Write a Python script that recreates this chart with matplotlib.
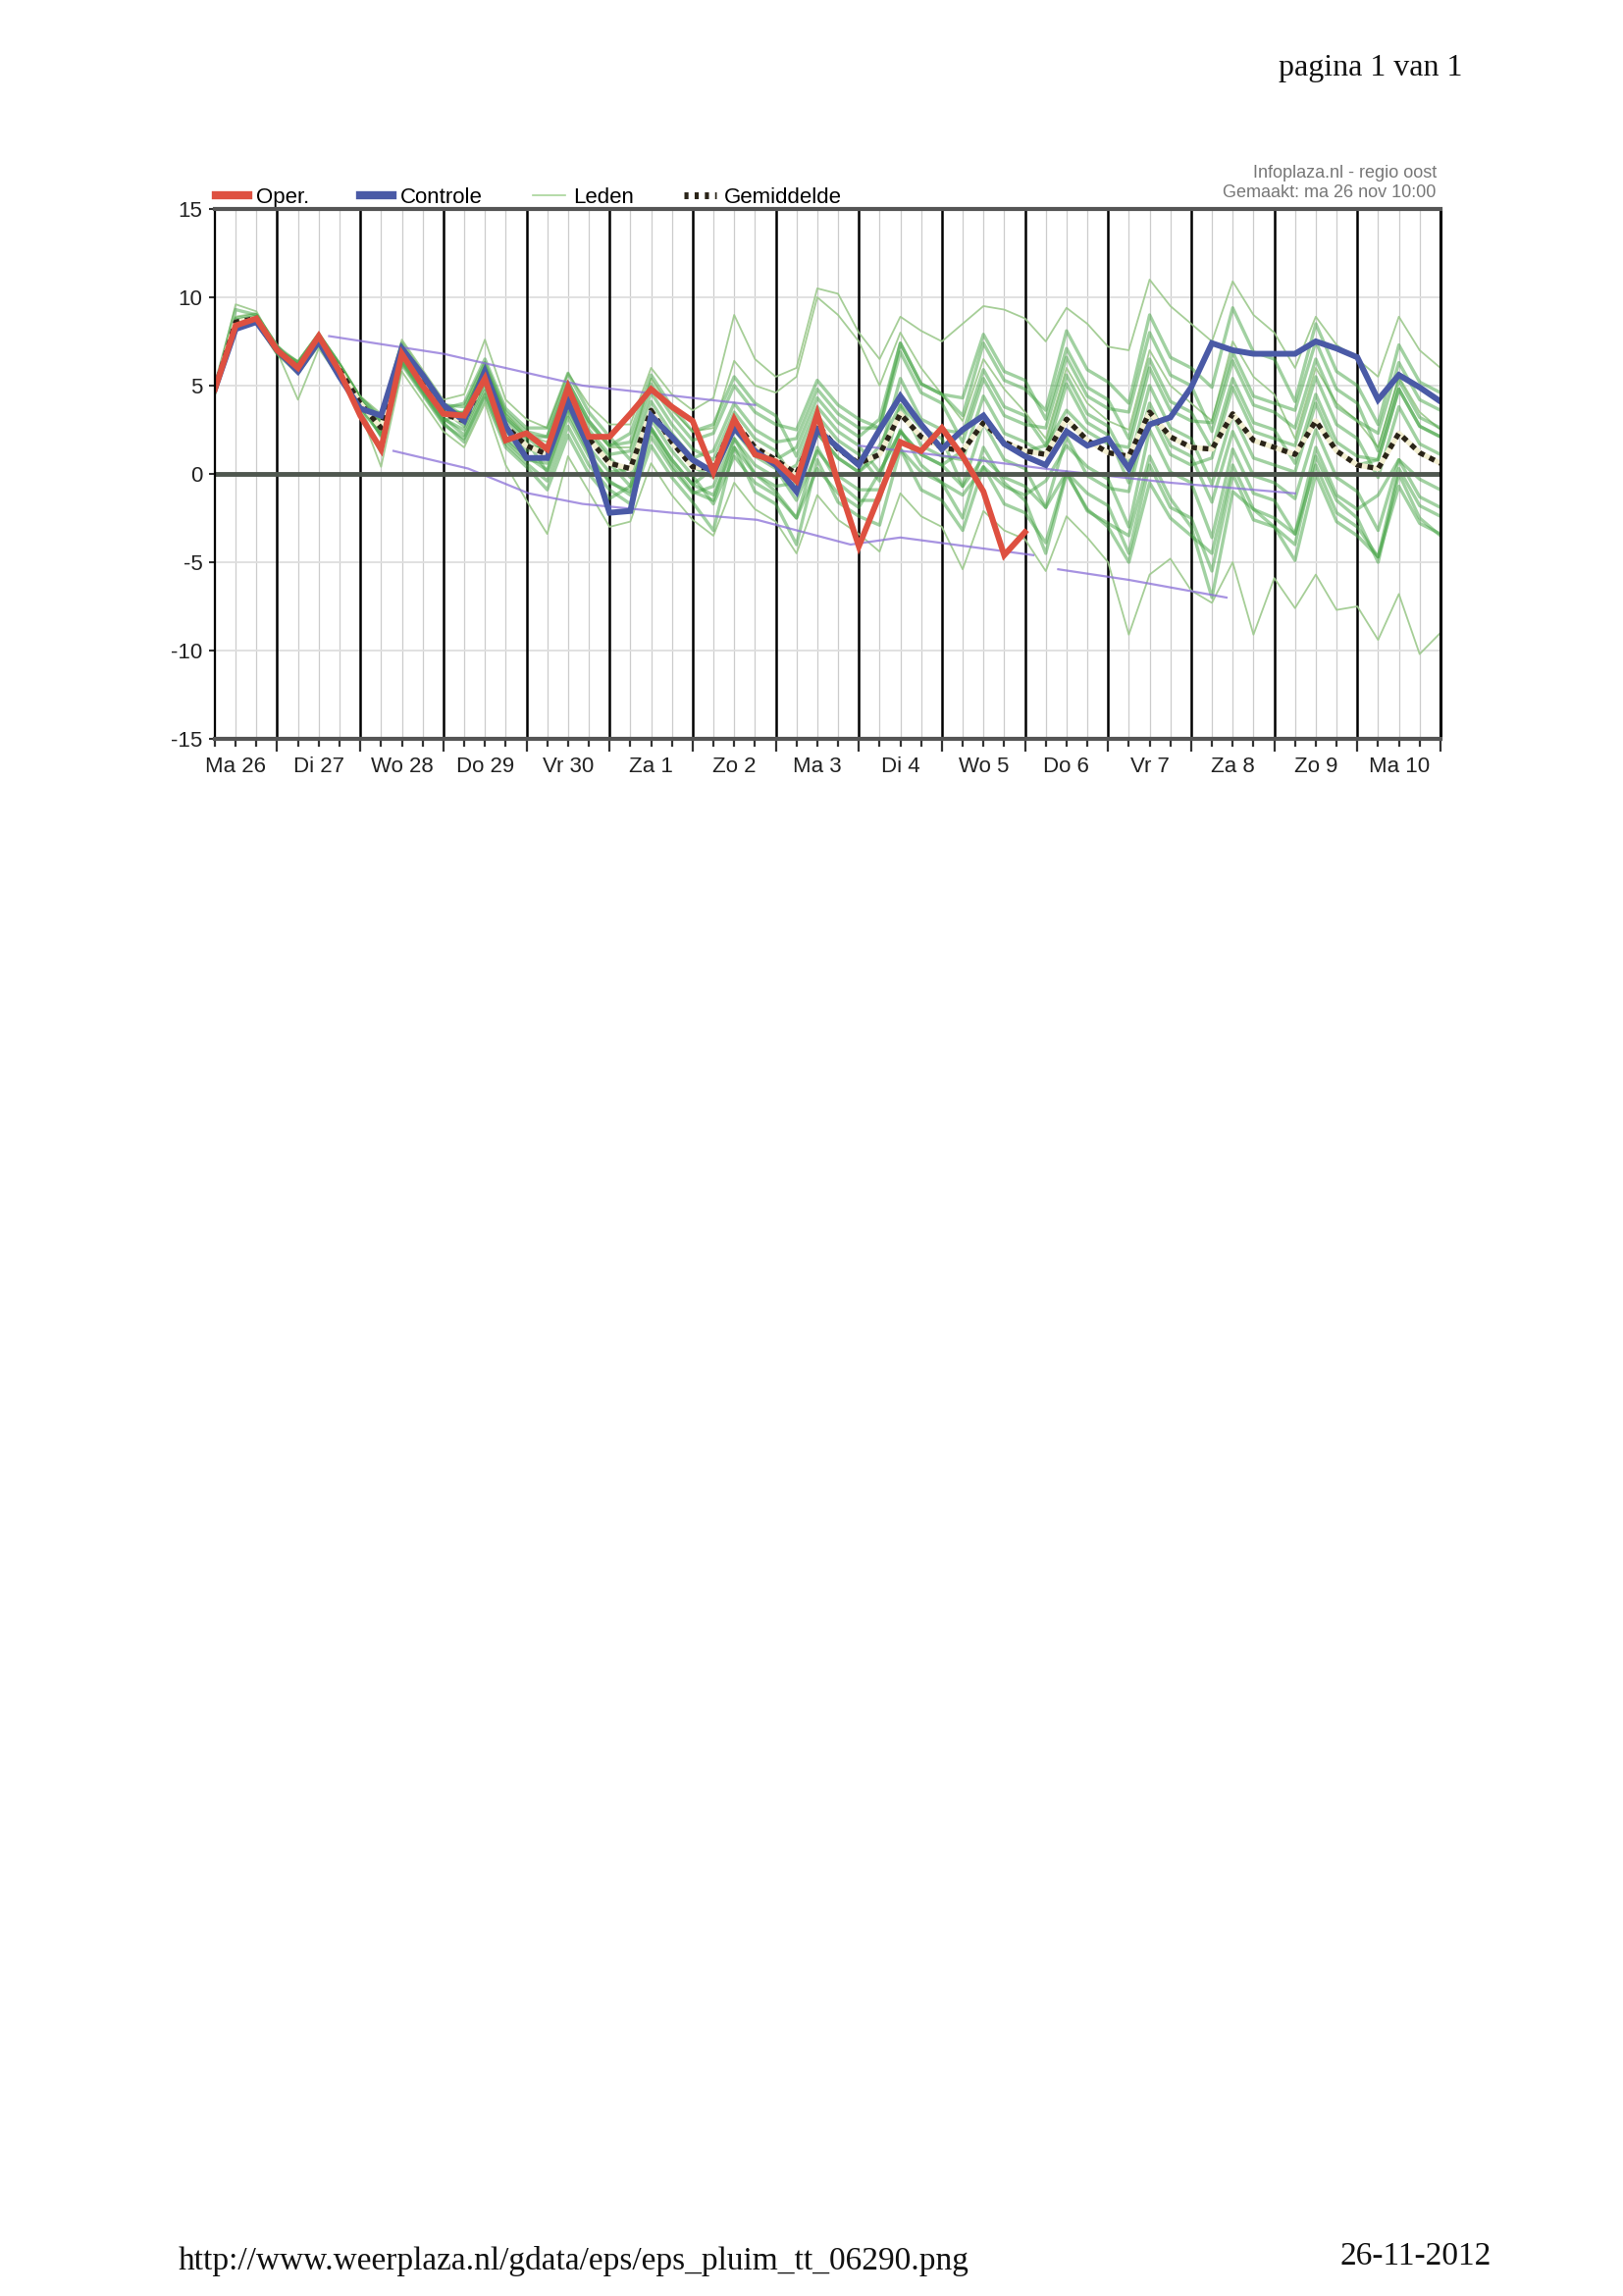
import numpy as np
import matplotlib
matplotlib.use("Agg")
import matplotlib.pyplot as plt
from matplotlib.lines import Line2D

# ---------------- data ----------------
# 6-hourly steps starting Ma 26 06:00 (step 0) until Di 11 00:00 (step 59)
steps = np.arange(60)
day_labels = ["Ma 26", "Di 27", "Wo 28", "Do 29", "Vr 30", "Za 1", "Zo 2", "Ma 3",
              "Di 4", "Wo 5", "Do 6", "Vr 7", "Za 8", "Zo 9", "Ma 10"]
label_steps = [1, 5, 9, 13, 17, 21, 25, 29, 33, 37, 41, 45, 49, 53, 57]      # 12:00 each day
day_boundaries = [3, 7, 11, 15, 19, 23, 27, 31, 35, 39, 43, 47, 51, 55, 59]  # 00:00 each day
y_ticks = [-15, -10, -5, 0, 5, 10, 15]

oper = [4.8, 8.4, 8.8, 7.0, 6.0, 7.8, 5.8, 3.3, 1.4, 6.8, 5.0, 3.4, 3.3, 5.4, 1.9, 2.3,
        1.4, 4.9, 2.1, 2.1, 3.4, 4.8, 3.8, 3.0, 0.1, 3.1, 1.1, 0.7, -0.4, 3.4, -0.5, -4.1,
        -1.2, 1.8, 1.3, 2.6, 1.0, -1.0, -4.6, -3.3]

controle = [4.8, 8.2, 8.6, 7.0, 5.8, 7.5, 5.5, 3.7, 3.3, 7.1, 5.6, 3.9, 3.0, 5.8, 2.7, 0.9,
            0.9, 4.1, 1.5, -2.2, -2.1, 3.3, 2.1, 0.8, 0.1, 2.6, 1.3, 0.5, -1.0, 2.5, 1.5, 0.5,
            2.5, 4.4, 2.8, 1.4, 2.5, 3.3, 1.7, 1.0, 0.5, 2.4, 1.6, 2.0, 0.3, 2.8, 3.2, 4.9,
            7.4, 7.0, 6.8, 6.8, 6.8, 7.5, 7.1, 6.6, 4.2, 5.6, 4.9, 4.1]

gemiddelde = [4.8, 8.6, 8.8, 7.0, 6.0, 7.6, 5.9, 4.0, 2.6, 6.8, 5.1, 3.4, 3.0, 5.5, 2.7, 1.6,
              1.1, 4.2, 2.0, 0.6, 0.3, 3.6, 1.8, 0.4, 0.3, 3.0, 1.5, 0.8, 0.0, 2.8, 1.4, 0.6,
              1.1, 3.4, 2.1, 1.5, 1.3, 2.9, 1.8, 1.3, 1.1, 3.1, 1.9, 1.2, 1.0, 3.5, 2.1, 1.5,
              1.4, 3.4, 1.9, 1.5, 1.1, 3.0, 1.3, 0.5, 0.3, 2.3, 1.2, 0.6]

# ensemble members ("Leden"), read approximately from the plume
lid_01 = [5.0, 8.8, 9.0, 7.2, 6.3, 7.9, 6.2, 4.3, 3.1, 7.3, 5.6, 3.9, 3.8, 6.3, 3.5, 2.4,
          2.1, 5.2, 3.0, 1.6, 1.8, 5.1, 3.3, 1.9, 2.3, 5.0, 3.5, 2.8, 2.5, 5.3, 3.9, 3.1,
          2.6, 7.4, 5.1, 4.5, 3.3, 7.4, 5.3, 4.8, 3.6, 8.1, 5.9, 5.2, 4.0, 9.0, 6.6, 6.0,
          4.9, 9.4, 6.9, 6.5, 4.1, 8.5, 5.8, 5.0, 2.8, 7.3, 5.2, 4.6]
lid_02 = [4.6, 8.4, 8.6, 6.8, 5.7, 7.3, 5.6, 3.7, 1.2, 6.2, 4.5, 2.8, 2.0, 4.5, 1.7, 0.6,
          -0.4, 2.7, 0.5, -0.9, -1.7, 1.6, -0.2, -1.6, -3.2, 1.5, -1.0, -1.7, -4.0, 0.8, -1.6, -2.4,
          -2.9, 1.4, -0.9, -1.5, -3.2, 0.4, -1.7, -2.2, -3.9, 0.1, -2.1, -2.8, -3.5, 1.0, -1.4, -3.0,
          -7.0, -1.0, -2.0, -2.5, -3.4, 0.5, -2.2, -3.0, -4.7, -0.7, -2.8, -3.4]
lid_03 = [4.9, 9.6, 9.2, 7.1, 6.4, 8.0, 6.3, 4.4, 3.4, 7.6, 5.9, 4.2, 4.5, 7.6, 4.2, 3.1,
          2.6, 5.7, 3.9, 2.8, 2.8, 6.0, 4.5, 3.6, 4.3, 9.0, 6.5, 5.5, 6.0, 10.5, 10.2, 8.0,
          6.5, 8.9, 8.1, 7.5, 8.5, 9.5, 9.3, 8.8, 7.5, 9.4, 8.5, 7.2, 7.0, 11.0, 9.5, 8.5,
          7.5, 10.9, 9.0, 8.0, 6.0, 8.9, 7.3, 6.5, 5.5, 8.9, 7.0, 6.0]
lid_04 = [4.7, 8.5, 8.7, 6.9, 4.2, 7.1, 5.4, 3.5, 0.4, 5.8, 4.1, 2.4, 1.5, 4.0, 0.5, -1.5,
          -3.4, 1.0, -1.0, -3.0, -2.7, 0.6, -1.2, -2.6, -3.5, -0.5, -2.0, -2.7, -4.5, -1.2, -2.6, -3.4,
          -4.4, -1.1, -2.4, -3.0, -5.4, -2.1, -3.2, -3.7, -5.5, -2.4, -3.6, -5.0, -9.1, -5.7, -4.8, -6.6,
          -7.3, -5.0, -9.1, -5.9, -7.6, -5.7, -7.7, -7.5, -9.4, -6.8, -10.2, -9.0]
lid_05 = [4.8, 8.6, 8.8, 7.0, 6.2, 7.8, 6.1, 4.2, 2.8, 7.0, 5.3, 3.6, 2.7, 5.2, 2.4, 1.3,
          1.6, 4.7, 2.5, 1.1, 1.3, 4.6, 2.8, 1.4, 0.8, 3.5, 2.0, 1.3, -0.5, 2.3, 0.9, 0.1,
          1.1, 5.4, 3.1, 2.5, 2.3, 5.9, 3.8, 3.3, 1.6, 5.6, 3.4, 2.7, 0.5, 5.0, 2.6, 2.0,
          -0.6, 3.4, 0.9, 0.5, 0.1, 4.0, 1.3, 0.5, 0.8, 4.8, 2.7, 2.1]
lid_06 = [4.9, 8.7, 8.9, 7.1, 5.8, 7.4, 5.7, 3.8, 2.2, 6.4, 4.7, 3.0, 3.5, 6.0, 3.2, 2.1,
          1.1, 4.2, 2.0, 0.6, -0.7, 2.6, 0.8, -0.6, -1.2, 1.5, 0.0, -0.7, -0.5, 2.3, 0.9, 0.1,
          1.6, 3.9, 2.6, 2.0, -0.7, 2.9, 0.8, 0.3, -1.9, 2.1, -0.1, -0.8, -1.0, 3.5, 1.1, 0.5,
          0.9, 4.9, 2.4, 2.0, 1.6, 5.5, 2.8, 2.0, -0.2, 3.8, 1.7, 1.1]
lid_07 = [4.7, 8.5, 8.7, 6.9, 6.1, 7.7, 6.0, 4.1, 2.9, 7.1, 5.4, 3.7, 4.0, 6.5, 3.7, 2.6,
          2.6, 5.7, 3.5, 2.1, 0.8, 4.1, 2.3, 0.9, 1.3, 4.0, 2.5, 1.8, 2.0, 4.8, 3.4, 2.6,
          2.6, 6.9, 4.6, 4.0, 1.8, 5.4, 3.3, 2.8, 2.6, 6.6, 4.4, 3.7, 3.5, 8.0, 5.6, 5.0,
          2.4, 6.4, 3.9, 3.5, 2.6, 6.5, 3.8, 3.0, 2.3, 6.3, 4.2, 3.6]
lid_08 = [5.0, 9.3, 9.0, 7.2, 6.0, 7.6, 5.9, 4.0, 2.4, 6.6, 4.9, 3.2, 2.2, 4.7, 1.9, 0.8,
          0.6, 3.7, 1.5, 0.1, 0.3, 3.6, 1.8, 0.4, -0.2, 2.5, 1.0, 0.3, -1.5, 1.3, -0.1, -0.9,
          -0.9, 1.4, 0.1, -0.5, -1.2, 0.4, -0.7, -1.2, -0.4, 1.6, 0.4, -0.3, -3.0, 2.5, 0.1, -0.5,
          -3.6, 1.4, -1.1, -1.5, -3.4, 1.5, -1.2, -2.0, -1.2, 0.8, -0.3, -0.9]
lid_09 = [4.8, 8.6, 8.8, 7.0, 6.3, 7.9, 6.2, 4.3, 3.2, 7.4, 5.7, 4.0, 3.3, 5.8, 3.0, 1.9,
          0.1, 3.2, 1.0, -0.4, -1.2, 2.1, 0.3, -1.1, -0.7, 2.0, 0.5, -0.2, 0.5, 3.3, 1.9, 1.1,
          -0.4, 3.9, 1.6, 1.0, 0.8, 4.4, 2.3, 1.8, 1.1, 5.1, 2.9, 2.2, -0.5, 4.0, 1.6, 1.0,
          -1.6, 2.4, -0.1, -0.5, -1.4, 2.5, -0.2, -1.0, -3.2, 0.8, -1.3, -1.9]
lid_10 = [4.6, 8.4, 8.6, 6.8, 5.9, 7.5, 5.8, 3.9, 2.6, 6.8, 5.1, 3.4, 3.5, 6.0, 3.2, 2.1,
          2.1, 5.2, 3.0, 1.6, 2.3, 5.6, 3.8, 2.4, 2.8, 5.5, 4.0, 3.3, 1.0, 3.8, 2.4, 1.6,
          0.1, 2.4, 1.1, 0.5, -0.7, 0.9, -0.2, -0.7, -1.9, 0.1, -1.1, -1.8, -4.5, 0.5, -1.9, -2.5,
          -5.5, 0.0, -2.6, -3.0, -4.9, 0.0, -2.7, -3.5, -4.7, 0.3, -1.8, -2.4]
lid_11 = [4.9, 8.7, 8.9, 7.1, 6.2, 7.8, 6.1, 4.2, 2.1, 6.3, 4.6, 2.9, 1.8, 4.3, 1.5, 0.4,
          -0.9, 2.2, 0.0, -1.4, -0.7, 2.6, 0.8, -0.6, 0.3, 3.0, 1.5, 0.8, 1.5, 4.3, 2.9, 2.1,
          3.1, 7.4, 5.1, 4.5, 4.3, 7.9, 5.8, 5.3, 3.1, 7.1, 4.9, 4.2, 2.0, 6.5, 4.1, 3.5,
          1.4, 5.4, 2.9, 2.5, 0.6, 4.5, 1.8, 1.0, 0.8, 4.8, 2.7, 2.1]
lid_12 = [4.7, 8.5, 8.7, 6.9, 5.8, 7.4, 5.7, 3.8, 3.0, 7.2, 5.5, 3.8, 3.0, 5.5, 2.7, 1.6,
          1.4, 4.5, 2.3, 0.9, -0.2, 3.1, 1.3, -0.1, -1.7, 1.0, -0.5, -1.2, -2.5, 0.3, -1.1, -1.9,
          0.1, 2.4, 1.1, 0.5, 1.3, 2.9, 1.8, 1.3, 1.6, 3.6, 2.4, 1.7, 1.5, 6.0, 3.6, 3.0,
          2.9, 6.9, 4.4, 4.0, 3.6, 7.5, 4.8, 4.0, 1.3, 5.3, 3.2, 2.6]
lid_13 = [4.9, 8.9, 9.1, 7.3, 6.1, 7.8, 6.0, 4.1, 2.8, 7.0, 5.4, 3.8, 3.4, 6.2, 3.4, 2.2,
          1.8, 5.0, 2.8, 1.5, 1.5, 5.4, 3.6, 2.4, 2.6, 6.4, 5.0, 4.6, 5.5, 10.0, 9.0, 7.5,
          5.0, 8.0, 6.0, 4.5, 3.0, 6.5, 4.8, 3.5, 2.0, 6.0, 4.0, 3.0, 2.5, 7.0, 5.0, 4.0,
          3.0, 7.5, 5.5, 4.5, 2.0, 6.0, 4.0, 3.0, 1.5, 5.5, 3.5, 2.5]
lid_14 = [4.7, 8.3, 8.6, 6.9, 5.9, 7.4, 5.7, 3.8, 2.2, 6.5, 4.8, 3.1, 2.5, 5.0, 2.0, 1.0,
          0.2, 3.5, 1.2, -0.5, -1.0, 2.5, 0.5, -1.0, -1.5, 2.0, 0.0, -1.0, -2.5, 1.5, -0.5, -1.5,
          -1.5, 2.5, 0.5, -0.5, -2.5, 1.5, -0.5, -1.5, -4.5, 0.0, -2.0, -3.0, -5.0, -0.5, -2.5, -3.5,
          -4.5, 0.5, -2.0, -3.0, -4.0, 1.0, -1.5, -2.5, -5.0, 0.0, -2.5, -3.5]

core_members = [lid_01, lid_02, lid_05, lid_06, lid_07, lid_08, lid_09, lid_10, lid_11, lid_12, lid_14]
outlier_members = [lid_03, lid_04, lid_13]

# purple pen strokes visible on the scanned print (step, value)
pen_1_steps = [5.5, 11.0, 17.7, 21.5, 26.0]
pen_1_vals = [7.8, 6.8, 5.0, 4.5, 3.9]
pen_2_steps = [8.6, 12.2, 15.1, 17.7, 22.0, 26.1, 30.6, 33.0, 39.4]
pen_2_vals = [1.3, 0.3, -1.1, -1.7, -2.2, -2.6, -4.0, -3.6, -4.6]
pen_3_steps = [31.0, 36.6, 40.6, 46.0, 52.0]
pen_3_vals = [1.6, 0.8, 0.2, -0.5, -1.1]
pen_4_steps = [40.6, 44.0, 48.7]
pen_4_vals = [-5.4, -6.0, -7.0]

# ---------------- figure ----------------
sans = ["Liberation Sans Narrow", "Liberation Sans", "DejaVu Sans"]
serif = ["Liberation Serif", "DejaVu Serif"]
plt.rcParams["font.family"] = sans

fig = plt.figure(figsize=(16.54, 23.40), dpi=100)
fig.patch.set_facecolor("white")
ax = fig.add_axes([0.1324, 0.6782, 0.7551, 0.2308])

ax.set_xlim(steps[0], steps[-1])
ax.set_ylim(y_ticks[0], y_ticks[-1])

# grid
for s in steps:
    if s not in day_boundaries:
        ax.axvline(s, color="#cccccc", lw=0.9, zorder=0)
for s in day_boundaries:
    ax.axvline(s, color="black", lw=1.8, zorder=1)
for v in y_ticks[1:-1]:
    if v != 0:
        ax.axhline(v, color="#dedede", lw=1.3, zorder=0)

# ensemble members
for m in outlier_members:
    ax.plot(steps, m, color="#9cc98c", lw=1.3, alpha=0.9, zorder=2)
for m in core_members:
    ax.plot(steps, m, color="#45a445", lw=2.4, alpha=0.5, zorder=2)

# pen strokes
for xs, ys in [(pen_1_steps, pen_1_vals), (pen_2_steps, pen_2_vals),
               (pen_3_steps, pen_3_vals), (pen_4_steps, pen_4_vals)]:
    ax.plot(xs, ys, color="#8a6fd8", lw=1.6, alpha=0.75, zorder=2.5)

ax.axhline(0, color="#4f574f", lw=3.5, zorder=3)

ax.plot(steps, gemiddelde, color="#f2eed0", lw=3.8, zorder=4)
ax.plot(steps, gemiddelde, color="#2a2418", lw=3.8, ls=(0, (1.1, 1.1)), zorder=4.1)
ax.plot(steps, controle, color="#4a5aa6", lw=4.3, zorder=5, solid_joinstyle="miter")
ax.plot(steps[:len(oper)], oper, color="#de5040", lw=4.3, zorder=6, solid_joinstyle="miter")

# spines
ax.spines["top"].set_color("#555555")
ax.spines["top"].set_linewidth(3)
ax.spines["bottom"].set_color("#555555")
ax.spines["bottom"].set_linewidth(3)
ax.spines["left"].set_color("black")
ax.spines["left"].set_linewidth(1.6)
ax.spines["right"].set_color("black")
ax.spines["right"].set_linewidth(2.2)
for sp in ax.spines.values():
    sp.set_zorder(7)

# ticks
major = [s for s in steps if s not in day_boundaries]
labels = [day_labels[label_steps.index(s)] if s in label_steps else "" for s in major]
ax.set_xticks(major)
ax.set_xticklabels(labels, fontsize=16, color="#222222")
ax.set_xticks(day_boundaries, minor=True)
ax.tick_params(axis="x", which="major", direction="out", length=6, width=1.6,
               color="#333333", pad=7)
ax.tick_params(axis="x", which="minor", direction="out", length=9, width=1.6,
               color="#333333")
ax.set_yticks(y_ticks)
ax.set_yticklabels([str(v) for v in y_ticks], fontsize=16, color="#222222")
ax.tick_params(axis="y", direction="out", length=4, width=1.5, color="#333333", pad=5)

# legend
handles = [Line2D([], [], color="#de5040", lw=6),
           Line2D([], [], color="#4a5aa6", lw=6),
           Line2D([], [], color="#a8d49a", lw=1.2),
           Line2D([], [], color="#2a2418", lw=5, ls=(0, (0.6, 0.9)))]
leg = ax.legend(handles, ["Oper.", "Controle", "Leden", "Gemiddelde"],
                loc="lower left", bbox_to_anchor=(0.0, 1.0), ncol=4, frameon=False,
                fontsize=16, handlelength=1.5, handletextpad=0.35, columnspacing=2.3,
                borderaxespad=0.0, borderpad=0.05)

fig.text(0.885, 0.9245, "Infoplaza.nl - regio oost", ha="right", va="center",
         fontsize=13, color="#777777")
fig.text(0.885, 0.9160, "Gemaakt: ma 26 nov 10:00", ha="right", va="center",
         fontsize=13, color="#777777")

# page texts of the printed sheet
fig.text(0.901, 0.9671, "pagina 1 van 1", ha="right", va="baseline",
         fontsize=23, family=serif, color="#111111")
fig.text(0.110, 0.0115, "http://www.weerplaza.nl/gdata/eps/eps_pluim_tt_06290.png",
         ha="left", va="baseline", fontsize=24, family=serif, color="#111111")
fig.text(0.919, 0.0135, "26-11-2012", ha="right", va="baseline",
         fontsize=24, family=serif, color="#111111")

fig.savefig("out.png", dpi=100, facecolor="white")
